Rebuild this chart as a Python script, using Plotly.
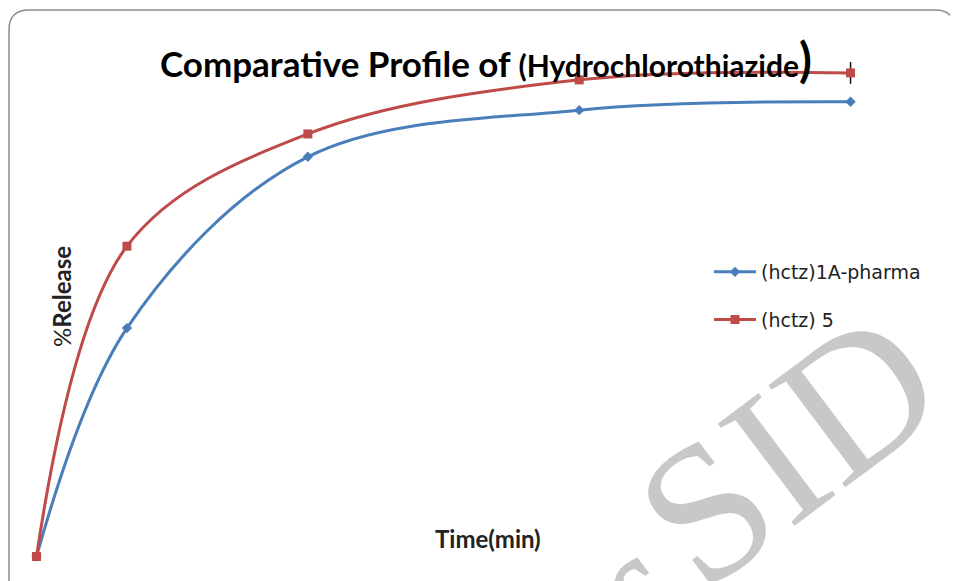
import plotly.graph_objects as go

time_min = [0, 5, 15, 30, 45]
release_1a = [0, 46.0, 80.5, 89.9, 91.6]
release_5 = [0, 62.5, 85.1, 96.0, 97.4]
err_5 = [0, 0, 0, 0, 2.2]

BLUE = "#4a7ebb"
RED = "#be4b48"

W, H = 950, 573  # page body has an 8px margin at top-left


def px(x):
    return x / W


def py(y):
    return 1 - y / H


fig = go.Figure()
fig.add_trace(go.Scatter(
    x=time_min, y=release_1a, name="(hctz)1A-pharma", mode="lines+markers",
    line=dict(color=BLUE, width=3, shape="spline", smoothing=1),
    marker=dict(symbol="diamond", size=8, color=BLUE),
    legendgroup="a", cliponaxis=False))
fig.add_trace(go.Scatter(
    x=time_min, y=release_5, name="(hctz) 5", mode="lines+markers",
    line=dict(color=RED, width=3, shape="spline", smoothing=1),
    marker=dict(symbol="square", size=9, color=RED),
    error_y=dict(type="data", array=err_5, color="#111111", thickness=1.5, width=0),
    legendgroup="b", cliponaxis=False))

r = 20
fig.update_layout(
    width=W, height=H,
    margin=dict(l=0, r=0, t=0, b=0),
    paper_bgcolor="white", plot_bgcolor="white",
    xaxis=dict(range=[-1.5755, 50.94], visible=False),
    yaxis=dict(range=[-4.93, 110.47], visible=False),
    showlegend=True,
    legend=dict(x=px(701), y=py(245), xanchor="left", yanchor="top",
                font=dict(family="DejaVu Sans", size=19, color="#222222"),
                itemwidth=42,
                bgcolor="rgba(0,0,0,0)", tracegroupgap=20, traceorder="grouped"),
    shapes=[dict(type="path", xref="paper", yref="paper",
                 path=(f"M {px(1)} {py(H + 5)} L {px(1)} {py(2 + r)} "
                       f"Q {px(1)} {py(2)} {px(1 + r)} {py(2)} "
                       f"L {px(947 - r)} {py(2)} Q {px(947)} {py(2)} {px(947)} {py(2 + r)} "
                       f"L {px(947)} {py(H + 5)}"),
                 line=dict(color="#8c8c8c", width=1.5), layer="below")],
)

fig.add_annotation(
    xref="paper", yref="paper", x=px(478), y=py(51),
    xanchor="center", yanchor="middle", showarrow=False,
    text=("<b><span style='font-size:35px'>Comparative Profile of </span>"
          "<span style='font-size:30px'>(Hydrochlorothiazide</span>"
          "<span style='font-size:47px'>)</span></b>"),
    font=dict(family="Lato", color="#000000", size=30))

fig.add_annotation(
    xref="paper", yref="paper", x=px(480), y=py(530),
    xanchor="center", yanchor="middle", showarrow=False,
    text="<b>Time(min)</b>", font=dict(family="Lato", size=24, color="#222222"))

fig.add_annotation(
    xref="paper", yref="paper", x=px(53), y=py(289),
    xanchor="center", yanchor="middle", showarrow=False, textangle=-90,
    text="%<b>Release</b>", font=dict(family="Lato", size=24, color="#222222"))

# watermark
fig.add_annotation(
    xref="paper", yref="paper", x=px(780), y=py(440),
    xanchor="center", yanchor="middle", showarrow=False, textangle=-37,
    text="SID", font=dict(family="Liberation Serif", size=195, color="#c8c8c8"))
fig.add_annotation(
    xref="paper", yref="paper", x=px(606), y=py(654),
    xanchor="center", yanchor="middle", showarrow=False, textangle=-37,
    text="of", font=dict(family="Liberation Serif", size=195, color="#c8c8c8"))

fig.write_html("out.html")
